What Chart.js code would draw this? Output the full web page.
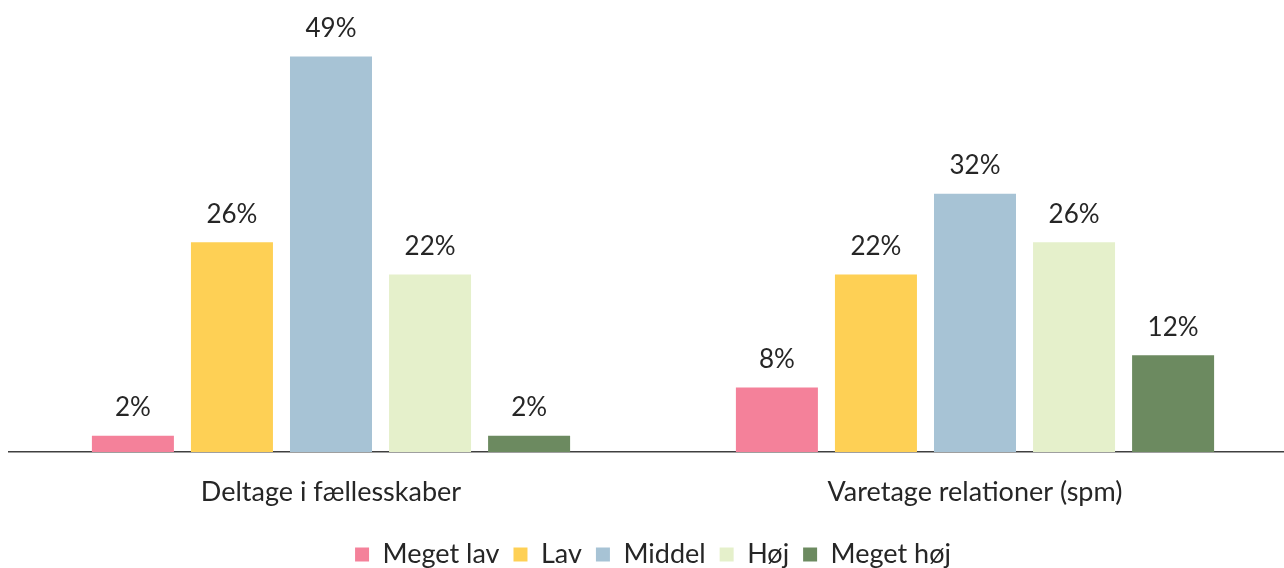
<!DOCTYPE html>
<html>
<head>
<meta charset="utf-8">
<script src="https://cdn.jsdelivr.net/npm/chart.js@4/dist/chart.umd.min.js"></script>
<style>
html,body{margin:0;padding:0;background:#fff;overflow:hidden;}
#wrap{width:1297px;height:578px;}
</style>
</head>
<body>
<div id="wrap"><canvas id="chart" width="1297" height="578"></canvas></div>
<script>
const categories = ["Deltage i fællesskaber", "Varetage relationer (spm)"];
const meget_lav = [2, 8];
const lav = [26, 22];
const middel = [49, 32];
const hoej = [22, 26];
const meget_hoej = [2, 12];

const seriesNames = ["Meget lav", "Lav", "Middel", "Høj", "Meget høj"];
const seriesValues = [meget_lav, lav, middel, hoej, meget_hoej];
const colors = ["#F4819A", "#FED055", "#A7C3D5", "#E5F0CB", "#6C8A60"];

const fontFam = "Lato, 'Open Sans', sans-serif";

// labels on top of each bar
const barLabels = {
  id: "barLabels",
  afterDatasetsDraw(chart) {
    const ctx = chart.ctx;
    ctx.save();
    ctx.font = "26px " + fontFam;
    ctx.fillStyle = "#262626";
    ctx.textAlign = "center";
    ctx.textBaseline = "middle";
    chart.data.datasets.forEach((ds, i) => {
      chart.getDatasetMeta(i).data.forEach((bar, j) => {
        ctx.fillText(ds.data[j] + "%", bar.x, bar.y - 28);
      });
    });
    ctx.restore();
  }
};

new Chart(document.getElementById("chart"), {
  type: "bar",
  data: {
    labels: categories,
    datasets: seriesNames.map((name, i) => ({
      label: name,
      data: seriesValues[i],
      backgroundColor: colors[i],
      categoryPercentage: 0.769,
      barPercentage: 0.828
    }))
  },
  options: {
    responsive: false,
    animation: false,
    layout: { padding: { left: 9, right: 0, top: 0, bottom: 0 } },
    scales: {
      x: {
        grid: { display: false },
        border: { display: true, color: "#404040", width: 1.5 },
        ticks: { color: "#262626", font: { family: fontFam, size: 27 }, padding: 16 },
        afterFit(axis) { axis.height += 2.6; }
      },
      y: {
        display: false,
        min: 0,
        max: 56
      }
    },
    plugins: {
      legend: {
        position: "bottom",
        labels: {
          color: "#262626",
          font: { family: fontFam, size: 27 },
          boxWidth: 14,
          boxHeight: 14,
          padding: 14
        }
      },
      tooltip: { enabled: false }
    }
  },
  plugins: [barLabels]
});
</script>
</body>
</html>
